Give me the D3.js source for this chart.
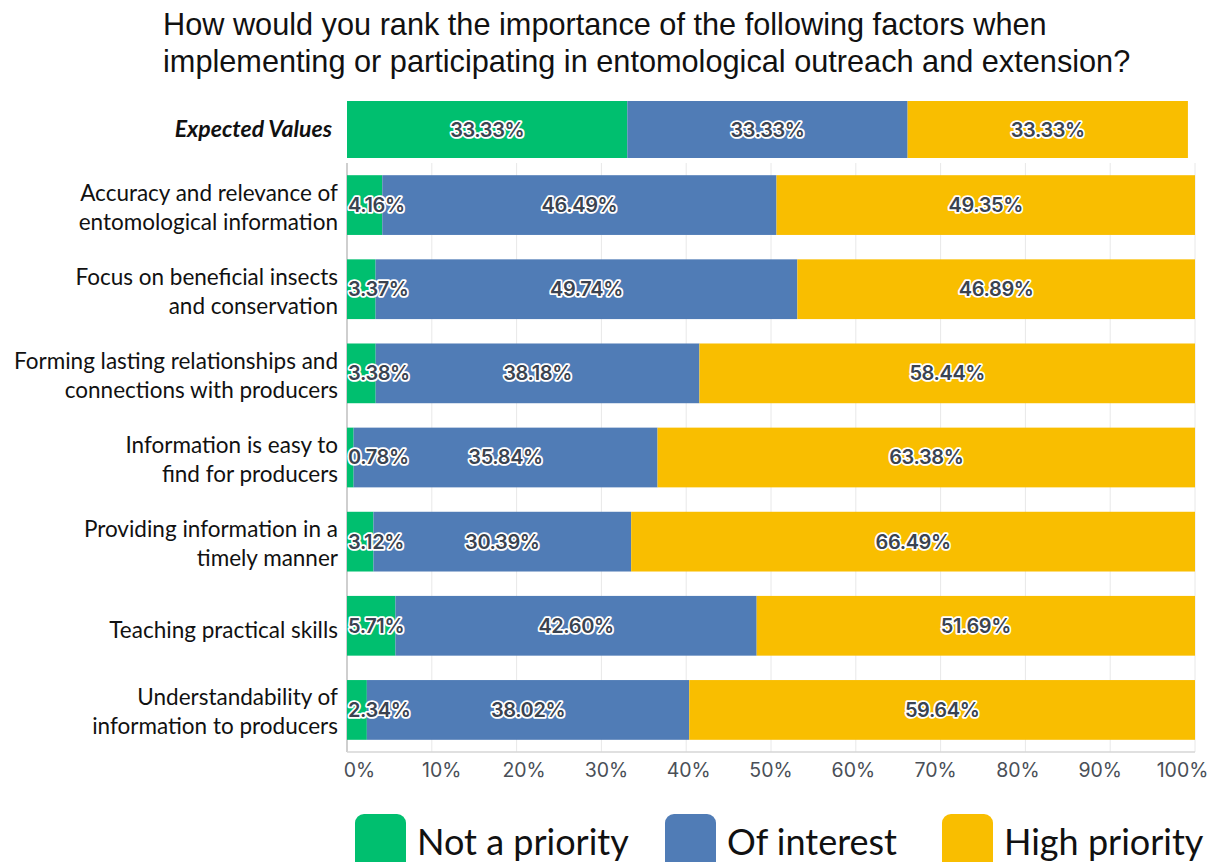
<!DOCTYPE html>
<html>
<head>
<meta charset="utf-8">
<script src="https://cdn.jsdelivr.net/npm/d3@7"></script>
<style>
  body { margin: 0; background: #fff; }
  svg { display: block; }
</style>
</head>
<body>
<div id="chart"></div>
<script>
(function() {

    var w = 1218;
    var h = 862;

    // data
    var categories = [
        ["Accuracy and relevance of", "entomological information"],
        ["Focus on beneficial insects", "and conservation"],
        ["Forming lasting relationships and", "connections with producers"],
        ["Information is easy to", "find for producers"],
        ["Providing information in a", "timely manner"],
        ["Teaching practical skills"],
        ["Understandability of", "information to producers"]
    ];
    var notPriority = [4.16, 3.37, 3.38, 0.78, 3.12, 5.71, 2.34];
    var ofInterest = [46.49, 49.74, 38.18, 35.84, 30.39, 42.60, 38.02];
    var highPriority = [49.35, 46.89, 58.44, 63.38, 66.49, 51.69, 59.64];
    var expected = [33.33, 33.33, 33.33];
    var seriesNames = ["Not a priority", "Of interest", "High priority"];
    var seriesColors = ["#00bf6f", "#507cb6", "#f9be00"];
    var tickValues = [0, 10, 20, 30, 40, 50, 60, 70, 80, 90, 100];

    var left = 347, right = 1195, top = 163, bottom = 752;

    var svg = d3.select("#chart").append("svg")
        .attr("width", w)
        .attr("height", h);

    // title
    svg.append("text")
        .attr("x", 163)
        .attr("y", 35)
        .attr("font-family", "Liberation Sans, Arial, sans-serif")
        .attr("font-size", 30.7)
        .attr("fill", "#111")
        .selectAll("tspan")
        .data(["How would you rank the importance of the following factors when",
               "implementing or participating in entomological outreach and extension?"])
        .enter().append("tspan")
        .attr("x", 163)
        .attr("dy", function(d, i) { return i === 0 ? 0 : 37; })
        .text(function(d) { return d; });

    var x = d3.scaleLinear().domain([0, 100]).range([left, right]);
    var y = d3.scaleBand().domain(d3.range(categories.length)).range([top, bottom]).paddingInner(0.29).paddingOuter(0.145);

    // gridlines
    svg.append("g")
        .selectAll("line")
        .data(tickValues)
        .enter().append("line")
        .attr("x1", function(d) { return x(d); })
        .attr("x2", function(d) { return x(d); })
        .attr("y1", top)
        .attr("y2", bottom)
        .attr("stroke", function(d) { return d === 0 ? "#cfcfcf" : "#e8e8e8"; })
        .attr("stroke-width", function(d) { return d === 0 ? 2 : 1; });

    svg.append("line")
        .attr("x1", left).attr("x2", right)
        .attr("y1", bottom).attr("y2", bottom)
        .attr("stroke", "#d6d6d6").attr("stroke-width", 1.5);

    // tick labels (the picture's labels sit slightly inside the bar range)
    var xLabel = d3.scaleLinear().domain([0, 100]).range([359, 1182]);
    var axis = svg.append("g")
        .attr("transform", "translate(0," + (bottom + 8) + ")")
        .call(d3.axisBottom(xLabel).tickValues(tickValues).tickSize(0).tickFormat(function(d) { return d + "%"; }));
    axis.select(".domain").remove();
    axis.selectAll("text")
        .attr("font-family", "Inter, Roboto, sans-serif")
        .attr("font-size", 19.5)
        .attr("fill", "#4a4f57");

    // stacked rows
    var rows = categories.map(function(c, i) {
        return [notPriority[i], ofInterest[i], highPriority[i]];
    });

    function segments(vals) {
        var acc = 0;
        return vals.map(function(v, k) {
            var s = { x0: acc, x1: acc + v, v: v, k: k };
            acc += v;
            return s;
        });
    }

    function labelStyle(sel) {
        sel.attr("font-family", "Inter, Roboto, sans-serif")
            .attr("font-weight", 600)
            .attr("font-size", 20)
            .attr("fill", "#3a4350")
            .attr("stroke", "#fff")
            .attr("stroke-width", 3.5)
            .attr("stroke-linejoin", "round")
            .attr("paint-order", "stroke")
            .attr("dominant-baseline", "central")
            .attr("letter-spacing", -0.4);
    }

    var rowG = svg.append("g").selectAll("g")
        .data(rows)
        .enter().append("g")
        .attr("transform", function(d, i) { return "translate(0," + y(i) + ")"; });

    rowG.selectAll("rect")
        .data(function(d) { return segments(d); })
        .enter().append("rect")
        .attr("x", function(d) { return x(d.x0); })
        .attr("width", function(d) { return x(d.x1) - x(d.x0); })
        .attr("y", 0)
        .attr("height", y.bandwidth())
        .attr("fill", function(d) { return seriesColors[d.k]; });

    rowG.selectAll("text")
        .data(function(d) { return segments(d); })
        .enter().append("text")
        .attr("x", function(d) { return d.k === 0 ? x(0) + 1 : (x(d.x0) + x(d.x1)) / 2; })
        .attr("text-anchor", function(d) { return d.k === 0 ? "start" : "middle"; })
        .attr("y", y.bandwidth() / 2)
        .text(function(d) { return d.v.toFixed(2) + "%"; })
        .call(labelStyle);

    // category labels
    var cat = svg.append("g").selectAll("text")
        .data(categories)
        .enter().append("text")
        .attr("x", 338)
        .attr("y", function(d, i) { return y(i) + y.bandwidth() / 2; })
        .attr("text-anchor", "end")
        .attr("font-family", "Lato, sans-serif")
        .attr("font-size", 22.5)
        .attr("fill", "#111");
    cat.selectAll("tspan")
        .data(function(d) { return d.map(function(t, j) { return { t: t, j: j, n: d.length }; }); })
        .enter().append("tspan")
        .attr("x", 338)
        .attr("dy", function(d) {
            if (d.j > 0) return 29;
            return d.n === 1 ? 12 : -4.5;
        })
        .text(function(d) { return d.t; });

    // expected values bar
    var xe = d3.scaleLinear().domain([0, 100]).range([left, 1188]);
    var ey = 101, eh = 57;
    var eg = svg.append("g").attr("transform", "translate(0," + ey + ")");
    var esegs = segments(expected);
    eg.selectAll("rect")
        .data(esegs)
        .enter().append("rect")
        .attr("x", function(d) { return xe(d.x0); })
        .attr("width", function(d) { return xe(Math.min(d.x1, 100)) - xe(d.x0); })
        .attr("height", eh)
        .attr("fill", function(d) { return seriesColors[d.k]; });
    eg.selectAll("text")
        .data(esegs)
        .enter().append("text")
        .attr("x", function(d) { return (xe(d.x0) + xe(Math.min(d.x1, 100))) / 2; })
        .attr("y", eh / 2)
        .attr("text-anchor", "middle")
        .text(function(d) { return d.v.toFixed(2) + "%"; })
        .call(labelStyle);

    svg.append("text")
        .attr("x", 332)
        .attr("y", ey + eh / 2 + 7)
        .attr("text-anchor", "end")
        .attr("font-family", "Lato, sans-serif")
        .attr("font-weight", "bold")
        .attr("font-style", "italic")
        .attr("font-size", 23)
        .attr("fill", "#111")
        .text("Expected Values");

    // legend
    var legendX = [355, 665, 942];
    var legend = svg.append("g").attr("transform", "translate(0,814)");
    var item = legend.selectAll("g")
        .data(seriesNames)
        .enter().append("g")
        .attr("transform", function(d, k) { return "translate(" + legendX[k] + ",0)"; });
    item.append("rect")
        .attr("width", 51)
        .attr("height", 60)
        .attr("rx", 9)
        .attr("fill", function(d, k) { return seriesColors[k]; });
    item.append("text")
        .attr("x", 62)
        .attr("y", 41)
        .attr("font-family", "Lato, sans-serif")
        .attr("font-size", 36)
        .attr("fill", "#111")
        .text(function(d) { return d; });

})();
</script>
</body>
</html>
